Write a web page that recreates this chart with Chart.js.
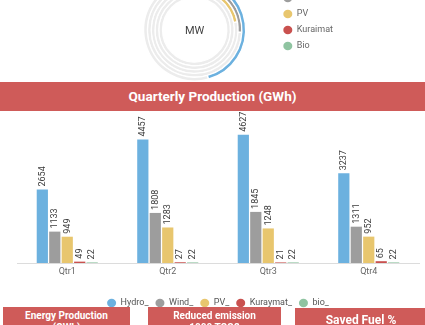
<!DOCTYPE html>
<html>
<head>
<meta charset="utf-8">
<script src="https://cdn.jsdelivr.net/npm/chart.js@4.4.1/dist/chart.umd.min.js"></script>
<style>
  html, body { margin:0; padding:0; background:#fff; width:425px; height:325px; overflow:hidden; font-family: Roboto, "Noto Sans", sans-serif; }
  .abs { position:absolute; }
  #ringWrap { left:0; top:-40px; width:425px; height:140px; z-index:1; }
  #barWrap { left:0; top:100px; width:425px; height:230px; z-index:1; }
  .banner { z-index:3; background:#cf5b59; color:#fff; font-weight:700; text-align:center; }
  #qbanner { left:0; top:82px; width:425px; height:29px; line-height:29px; font-size:13.5px; }
  .box { top:307px; height:40px; font-size:10px; line-height:12px; padding-top:3px; box-sizing:border-box; }
  #box1 { left:3px; width:127px; }
  #box2 { left:148px; width:133px; }
  #box3 { left:295px; width:132px; top:308px; font-size:12px; padding-top:6px; }
</style>
</head>
<body>
<div id="ringWrap" class="abs"><canvas id="ring"></canvas></div>
<div id="qbanner" class="abs banner">Quarterly Production (GWh)</div>
<div id="barWrap" class="abs"><canvas id="bars"></canvas></div>
<div id="box1" class="abs banner box">Energy Production<br>(GWh)</div>
<div id="box2" class="abs banner box">Reduced emission<br>1000 TCO2</div>
<div id="box3" class="abs banner box">Saved Fuel %</div>
<script>
// ---- data ----
const ringLabels = ['Hydro', 'Wind', 'PV', 'Kuraimat', 'Bio'];
const ringValues = [2832, 1600, 1365, 140, 60];   // MW (estimated)
const ringMax = 6200;
const seriesColors = ['#6cb1df', '#9d9d9d', '#e8c66e', '#c9514f', '#8fc4a1'];

const quarters = ['Qtr1', 'Qtr2', 'Qtr3', 'Qtr4'];
const seriesNames = ['Hydro_', 'Wind_', 'PV_', 'Kuraymat_', 'bio_'];
const hydro = [2654, 4457, 4627, 3237];
const wind = [1133, 1808, 1845, 1311];
const pv = [949, 1283, 1248, 952];
const kuraymat = [49, 27, 21, 65];
const bio = [22, 22, 22, 22];
const yMax = 5200;

Chart.defaults.font.family = 'Roboto, "Noto Sans", sans-serif';

// ---- radial rings ----
const centerText = {
  id: 'centerText',
  afterDraw(chart) {
    const arc = chart.getDatasetMeta(0).data[0];
    if (!arc) return;
    const ctx = chart.ctx;
    ctx.save();
    ctx.font = '11px Roboto, sans-serif';
    ctx.fillStyle = '#444';
    ctx.textAlign = 'center';
    ctx.textBaseline = 'middle';
    ctx.fillText('MW', arc.x, arc.y + 1);
    ctx.restore();
  }
};

new Chart(document.getElementById('ring'), {
  type: 'doughnut',
  data: {
    labels: ['value', 'rest'],
    datasets: ringLabels.map((name, i) => ({
      label: name,
      data: [ringValues[i], ringMax - ringValues[i]],
      backgroundColor: [seriesColors[i], '#ececec'],
      borderColor: '#fff',
      borderWidth: 1.3
    }))
  },
  options: {
    responsive: true,
    maintainAspectRatio: false,
    animation: false,
    radius: 51,
    cutout: '63%',
    layout: { padding: { left: 113, right: 82, top: 10.5, bottom: 10.5 } },
    plugins: {
      tooltip: { enabled: false },
      legend: {
        position: 'right',
        align: 'start',
        onClick: null,
        labels: {
          font: { size: 9 },
          color: '#666',
          usePointStyle: true,
          pointStyleWidth: 9,
          boxHeight: 6,
          padding: 7,
          generateLabels: () => ringLabels.map((t, i) => ({
            text: t, fillStyle: seriesColors[i], strokeStyle: seriesColors[i],
            lineWidth: 0, pointStyle: 'circle', hidden: false, datasetIndex: i, fontColor: '#666'
          }))
        }
      }
    }
  },
  plugins: [centerText]
});

// ---- quarterly bars ----
const barLabels = {
  id: 'barLabels',
  afterDatasetsDraw(chart) {
    const ctx = chart.ctx;
    ctx.save();
    ctx.font = '9px Roboto, sans-serif';
    ctx.fillStyle = '#3a3a3a';
    ctx.textAlign = 'left';
    ctx.textBaseline = 'middle';
    chart.data.datasets.forEach((ds, i) => {
      chart.getDatasetMeta(i).data.forEach((bar, j) => {
        ctx.save();
        ctx.translate(bar.x, bar.y - 3);
        ctx.rotate(-Math.PI / 2);
        ctx.fillText(String(ds.data[j]), 0, 0);
        ctx.restore();
      });
    });
    ctx.restore();
  }
};

const seriesData = [hydro, wind, pv, kuraymat, bio];
new Chart(document.getElementById('bars'), {
  type: 'bar',
  data: {
    labels: quarters,
    datasets: seriesNames.map((n, i) => ({
      label: n,
      data: seriesData[i],
      backgroundColor: seriesColors[i],
      borderWidth: 0,
      categoryPercentage: 0.62,
      barPercentage: 0.9
    }))
  },
  options: {
    responsive: true,
    maintainAspectRatio: false,
    animation: false,
    layout: { padding: { left: 17, right: 6, top: 19, bottom: 12.5 } },
    scales: {
      y: { display: false, min: 0, max: yMax },
      x: {
        grid: { display: false, drawTicks: false },
        border: { display: true, color: '#dcdcdc', width: 1 },
        ticks: { color: '#666', font: { size: 9 }, padding: 3 },
        afterFit(scale) { scale.height += 11.7; }
      }
    },
    plugins: {
      tooltip: { enabled: false },
      legend: {
        position: 'bottom',
        onClick: null,
        labels: {
          font: { size: 9 },
          color: '#555',
          usePointStyle: true,
          pointStyleWidth: 9,
          boxHeight: 6,
          padding: 7
        }
      }
    }
  },
  plugins: [barLabels]
});
</script>
</body>
</html>
